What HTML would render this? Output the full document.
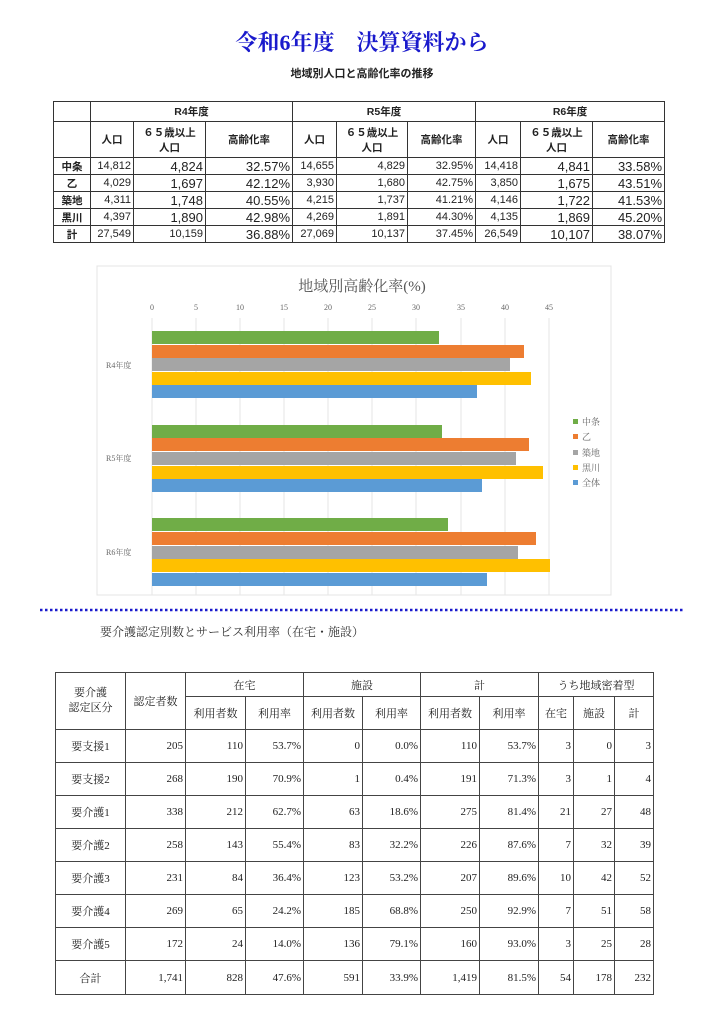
<!DOCTYPE html>
<html><head><meta charset="utf-8">
<style>
body{margin:0;width:724px;height:1024px;background:#fff;position:relative;overflow:hidden;font-family:"Liberation Sans","Noto Sans CJK JP",sans-serif;color:#222}
.abs{position:absolute}
table{border-collapse:collapse;table-layout:fixed;position:absolute}
td{border:1px solid #333;padding:0 2px;white-space:nowrap;overflow:hidden}
#t1 td{font-size:11px;text-align:right;height:16px}
#t1 .h{text-align:center;font-weight:bold;font-size:10.5px}
#t1 .b{font-size:13px}
#t2{font-family:"Liberation Serif","Noto Serif CJK SC",serif}
#t2 td{font-size:11px;text-align:right;border-color:#444}
#t2 .c{text-align:center}
</style></head><body>
<div class="abs" style="left:0;width:724px;top:26px;text-align:center;font:bold 22px 'Liberation Serif','Noto Serif CJK SC',serif;color:#1a1acc">令和6年度　決算資料から</div>
<div class="abs" style="left:0;width:724px;top:65px;text-align:center;font-size:11px;font-weight:bold">地域別人口と高齢化率の推移</div>

<table id="t1" style="left:53px;top:101px;width:611px">
<colgroup><col style="width:37px"><col style="width:43px"><col style="width:72px"><col style="width:87px"><col style="width:44px"><col style="width:71px"><col style="width:68px"><col style="width:45px"><col style="width:72px"><col style="width:72px"></colgroup>
<tr style="height:20px"><td></td><td class="h" colspan="3">R4年度</td><td class="h" colspan="3">R5年度</td><td class="h" colspan="3">R6年度</td></tr>
<tr style="height:36px"><td></td><td class="h">人口</td><td class="h">６５歳以上<br>人口</td><td class="h">高齢化率</td><td class="h">人口</td><td class="h">６５歳以上<br>人口</td><td class="h">高齢化率</td><td class="h">人口</td><td class="h">６５歳以上<br>人口</td><td class="h">高齢化率</td></tr>
<tr><td class="h">中条</td><td>14,812</td><td class="b">4,824</td><td class="b">32.57%</td><td>14,655</td><td>4,829</td><td>32.95%</td><td>14,418</td><td class="b">4,841</td><td class="b">33.58%</td></tr>
<tr><td class="h">乙</td><td>4,029</td><td class="b">1,697</td><td class="b">42.12%</td><td>3,930</td><td>1,680</td><td>42.75%</td><td>3,850</td><td class="b">1,675</td><td class="b">43.51%</td></tr>
<tr><td class="h">築地</td><td>4,311</td><td class="b">1,748</td><td class="b">40.55%</td><td>4,215</td><td>1,737</td><td>41.21%</td><td>4,146</td><td class="b">1,722</td><td class="b">41.53%</td></tr>
<tr><td class="h">黒川</td><td>4,397</td><td class="b">1,890</td><td class="b">42.98%</td><td>4,269</td><td>1,891</td><td>44.30%</td><td>4,135</td><td class="b">1,869</td><td class="b">45.20%</td></tr>
<tr><td class="h">計</td><td>27,549</td><td>10,159</td><td class="b">36.88%</td><td>27,069</td><td>10,137</td><td>37.45%</td><td>26,549</td><td class="b">10,107</td><td class="b">38.07%</td></tr>
</table>

<svg class="abs" style="left:0;top:0" width="724" height="1024" font-family="'Liberation Serif','Noto Serif CJK SC',serif">
<rect x="97" y="266" width="514" height="329" fill="none" stroke="#e4e4e4"/>
<text x="362" y="291" font-size="15" fill="#555" text-anchor="middle">地域別高齢化率(%)</text>
<g font-size="8" fill="#666" text-anchor="middle">
<text x="152" y="310">0</text><text x="196" y="310">5</text><text x="240" y="310">10</text><text x="284" y="310">15</text><text x="328" y="310">20</text><text x="372" y="310">25</text><text x="416" y="310">30</text><text x="461" y="310">35</text><text x="505" y="310">40</text><text x="549" y="310">45</text>
</g>
<g stroke="#e6e6e6">
<line x1="152" y1="318" x2="152" y2="595"/><line x1="196" y1="318" x2="196" y2="595"/><line x1="240" y1="318" x2="240" y2="595"/><line x1="284" y1="318" x2="284" y2="595"/><line x1="328" y1="318" x2="328" y2="595"/><line x1="372" y1="318" x2="372" y2="595"/><line x1="416" y1="318" x2="416" y2="595"/><line x1="461" y1="318" x2="461" y2="595"/><line x1="505" y1="318" x2="505" y2="595"/><line x1="549" y1="318" x2="549" y2="595"/>
</g>
<g>
<rect x="152" y="331" width="287" height="13" fill="#70ad47"/>
<rect x="152" y="345" width="372" height="13" fill="#ed7d31"/>
<rect x="152" y="358" width="358" height="13" fill="#a5a5a5"/>
<rect x="152" y="372" width="379" height="13" fill="#ffc000"/>
<rect x="152" y="385" width="325" height="13" fill="#5b9bd5"/>
<rect x="152" y="425" width="290" height="13" fill="#70ad47"/>
<rect x="152" y="438" width="377" height="13" fill="#ed7d31"/>
<rect x="152" y="452" width="364" height="13" fill="#a5a5a5"/>
<rect x="152" y="466" width="391" height="13" fill="#ffc000"/>
<rect x="152" y="479" width="330" height="13" fill="#5b9bd5"/>
<rect x="152" y="518" width="296" height="13" fill="#70ad47"/>
<rect x="152" y="532" width="384" height="13" fill="#ed7d31"/>
<rect x="152" y="546" width="366" height="13" fill="#a5a5a5"/>
<rect x="152" y="559" width="398" height="13" fill="#ffc000"/>
<rect x="152" y="573" width="335" height="13" fill="#5b9bd5"/>
</g>
<g font-size="8" fill="#666">
<text x="106" y="368">R4年度</text><text x="106" y="461">R5年度</text><text x="106" y="555">R6年度</text>
</g>
<g font-size="9" fill="#666">
<rect x="573" y="419" width="5" height="5" fill="#70ad47"/><text x="582" y="425">中条</text>
<rect x="573" y="434" width="5" height="5" fill="#ed7d31"/><text x="582" y="440">乙</text>
<rect x="573" y="450" width="5" height="5" fill="#a5a5a5"/><text x="582" y="456">築地</text>
<rect x="573" y="465" width="5" height="5" fill="#ffc000"/><text x="582" y="471">黒川</text>
<rect x="573" y="480" width="5" height="5" fill="#5b9bd5"/><text x="582" y="486">全体</text>
</g>
<line x1="40" y1="610" x2="685" y2="610" stroke="#1a1acc" stroke-width="2.5" stroke-dasharray="2.5,2.5"/>
<text x="100" y="636" font-size="12" fill="#333">要介護認定別数とサービス利用率（在宅・施設）</text>
</svg>

<table id="t2" style="left:55px;top:672px;width:598px">
<colgroup><col style="width:70px"><col style="width:60px"><col style="width:60px"><col style="width:58px"><col style="width:59px"><col style="width:58px"><col style="width:59px"><col style="width:59px"><col style="width:35px"><col style="width:41px"><col style="width:39px"></colgroup>
<tr style="height:24px"><td class="c" rowspan="2" style="line-height:15px">要介護<br>認定区分</td><td class="c" rowspan="2">認定者数</td><td class="c" colspan="2">在宅</td><td class="c" colspan="2">施設</td><td class="c" colspan="2">計</td><td class="c" colspan="3">うち地域密着型</td></tr>
<tr style="height:33px"><td class="c">利用者数</td><td class="c">利用率</td><td class="c">利用者数</td><td class="c">利用率</td><td class="c">利用者数</td><td class="c">利用率</td><td class="c">在宅</td><td class="c">施設</td><td class="c">計</td></tr>
<tr style="height:33px"><td class="c">要支援1</td><td>205</td><td>110</td><td>53.7%</td><td>0</td><td>0.0%</td><td>110</td><td>53.7%</td><td>3</td><td>0</td><td>3</td></tr>
<tr style="height:33px"><td class="c">要支援2</td><td>268</td><td>190</td><td>70.9%</td><td>1</td><td>0.4%</td><td>191</td><td>71.3%</td><td>3</td><td>1</td><td>4</td></tr>
<tr style="height:33px"><td class="c">要介護1</td><td>338</td><td>212</td><td>62.7%</td><td>63</td><td>18.6%</td><td>275</td><td>81.4%</td><td>21</td><td>27</td><td>48</td></tr>
<tr style="height:33px"><td class="c">要介護2</td><td>258</td><td>143</td><td>55.4%</td><td>83</td><td>32.2%</td><td>226</td><td>87.6%</td><td>7</td><td>32</td><td>39</td></tr>
<tr style="height:33px"><td class="c">要介護3</td><td>231</td><td>84</td><td>36.4%</td><td>123</td><td>53.2%</td><td>207</td><td>89.6%</td><td>10</td><td>42</td><td>52</td></tr>
<tr style="height:33px"><td class="c">要介護4</td><td>269</td><td>65</td><td>24.2%</td><td>185</td><td>68.8%</td><td>250</td><td>92.9%</td><td>7</td><td>51</td><td>58</td></tr>
<tr style="height:33px"><td class="c">要介護5</td><td>172</td><td>24</td><td>14.0%</td><td>136</td><td>79.1%</td><td>160</td><td>93.0%</td><td>3</td><td>25</td><td>28</td></tr>
<tr style="height:34px"><td class="c">合計</td><td>1,741</td><td>828</td><td>47.6%</td><td>591</td><td>33.9%</td><td>1,419</td><td>81.5%</td><td>54</td><td>178</td><td>232</td></tr>
</table>
</body></html>
